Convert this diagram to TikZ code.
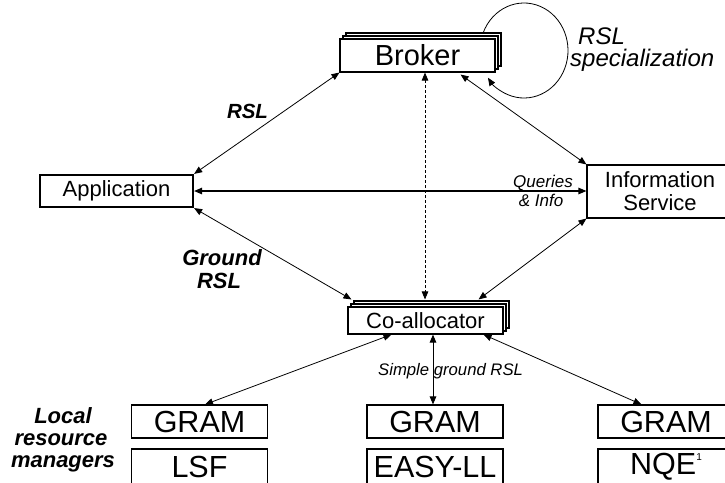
\documentclass[tikz,border=0pt]{standalone}
\usepackage{fontspec}
\setmainfont{Liberation Sans}
\usetikzlibrary{arrows.meta,shadows,calc}

\begin{document}
\begin{tikzpicture}[x=1pt,y=-1pt,
  box/.style={draw,line width=1.1pt,fill=white,inner sep=0pt,
    minimum width=136pt,minimum height=33pt},
  stackbox/.style={box,minimum width=155pt,
    general shadow={shadow xshift=6pt,shadow yshift=6pt,draw,line width=1.1pt,fill=white},
    general shadow={shadow xshift=3pt,shadow yshift=3pt,draw,line width=1.1pt,fill=white}},
  big/.style={font=\fontsize{30.5}{34}\selectfont},
  mid/.style={font=\fontsize{22}{23}\selectfont},
  lab/.style={inner sep=0pt,anchor=base},
  labw/.style={inner sep=0pt,anchor=base west},
  bi/.style={font=\bfseries\itshape\fontsize{22}{24}\selectfont},
  it/.style={font=\itshape\fontsize{24}{26}\selectfont},
  tip/.style={line width=0.8pt,-{Triangle[length=8pt,width=6.5pt]}},
  both/.style={line width=0.8pt,
    {Triangle[length=8pt,width=6.5pt]}-{Triangle[length=8pt,width=6.5pt]}},
]
\useasboundingbox (0,0) rectangle (725,482);
\fill[white] (0,0) rectangle (725,482);

% self loop of the broker (drawn first so the stack hides its start)
\coordinate (loopc) at (524,50.5);
\draw[tip] ($(loopc)+({44*cos(158)},{-47.5*sin(158)})$)
  arc[start angle=158,end angle=-145,x radius=44pt,y radius=47.5pt];

% main components
\node[stackbox,minimum height=33pt,font=\fontsize{29}{31}\selectfont] (broker) at (417.5,55.5) {Broker};
\node[box,line width=2.2pt,minimum width=153pt,minimum height=32pt,mid] (app) at (116.5,191) {Application};
\node[box,minimum width=146pt,minimum height=53pt,mid,align=center] (info) at (660,191.5) {Information\\Service};
\node[stackbox,minimum height=27pt,mid] (coal) at (425.5,320.5) {Co-allocator};

% local resource managers
\node[box,big] (g1) at (199.5,421.5) {GRAM};
\node[box,big,minimum height=35pt] (l1) at (199.5,466.5) {LSF};
\node[box,big] (g2) at (435,421.5) {GRAM};
\node[box,big,minimum height=35pt] (l2) at (435,466.5) {EASY-LL};
\node[box,big] (g3) at (666,421.5) {GRAM};
\node[box,big,minimum height=35pt] (l3) at (666,466.5) {NQE\raisebox{14pt}{\fontsize{10}{10}\selectfont 1}};

% connectors
\draw[both] (app.north east) -- (broker.south west);
\draw[both,line width=1.1pt] (app.east) -- (app.east -| info.west);
\draw[both] (app.south east) -- ($(coal.north west)+(4,-7)$);
\draw[both,dash pattern=on 3pt off 2pt] ($(broker.south)+(7.5,0)$) -- ($(coal.north)+(-0.5,-7)$);
\draw[both] ($(broker.south east)+(-35,2)$) -- (info.north west);
\draw[both] (info.south west) -- ($(coal.north east)+(-25,-7)$);
\draw[both] ($(coal.south west)+(44,0)$) -- ($(g1.north)+(5.5,0)$);
\draw[both,line width=1pt] ($(coal.south)+(7.5,0)$) coordinate (cm) -- (cm |- g2.north);
\draw[both] ($(coal.south east)+(-20,0)$) -- ($(g3.north west)+(44,0)$);

% labels
\node[lab,font=\bfseries\itshape\fontsize{20.5}{24}\selectfont] (rsl) at (247.5,118) {RSL};
\node[lab,bi] (gr1) at (222,265) {Ground};
\node[lab,bi] (gr2) at (219,288) {RSL};
\node[labw,it] (sp1) at (578,44) {RSL};
\node[labw,it] (sp2) at (570,66) {specialization};
\node[lab,font=\itshape\fontsize{17}{19}\selectfont] (q1) at (543,187) {Queries};
\node[lab,font=\itshape\fontsize{17}{19}\selectfont] (q2) at (541,206) {\& Info};
\node[labw,font=\itshape\fontsize{16.7}{19}\selectfont] (sg) at (378,375) {Simple ground RSL};
\node[lab,bi] (lr1) at (63,423) {Local};
\node[lab,bi] (lr2) at (61,445) {resource};
\node[lab,bi] (lr3) at (63,467) {managers};
\end{tikzpicture}
\end{document}
